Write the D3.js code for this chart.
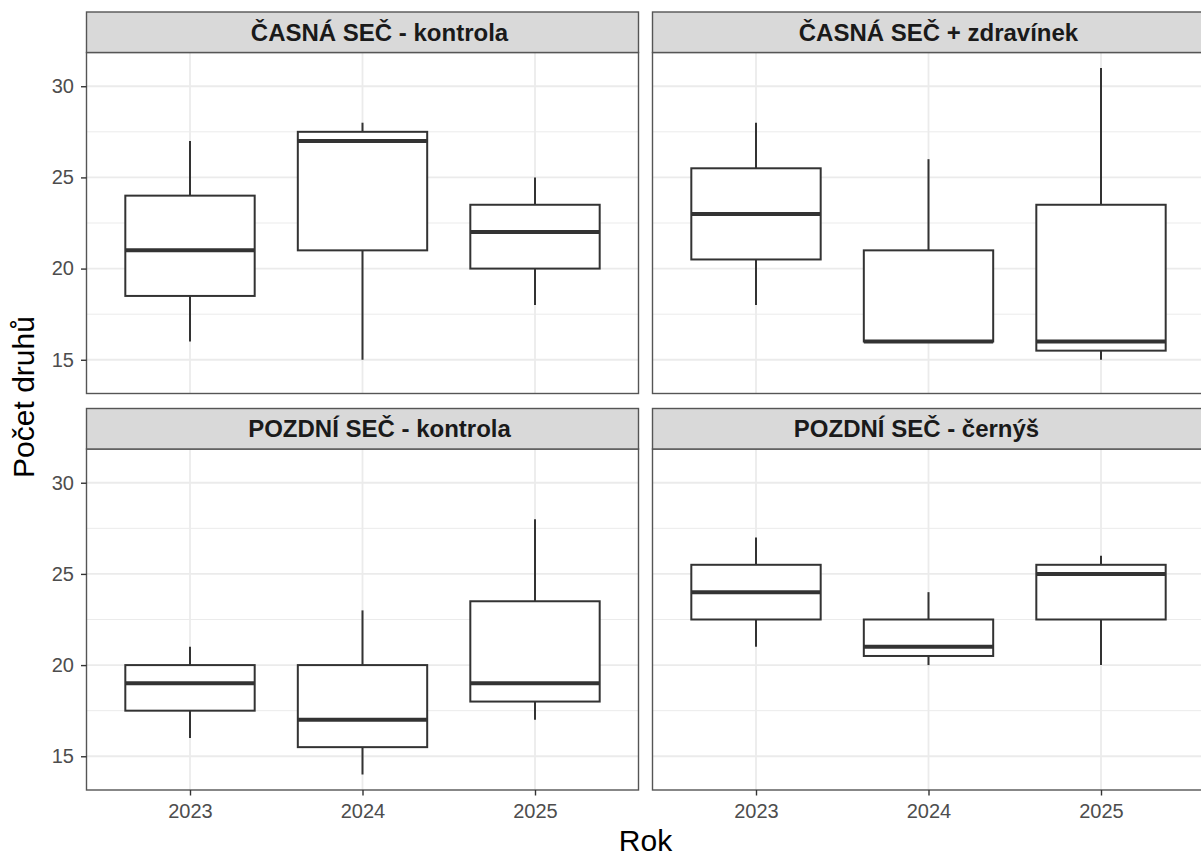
<!DOCTYPE html>
<html>
  <head>
    <meta charset="utf-8" />
    <script src="https://d3js.org/d3.v7.min.js"></script>
    <style>
      body { margin: 0; background: #fff; }
      svg { font-family: "Liberation Sans", Arial, sans-serif; display: block; }
    </style>
  </head>

  <body>
    <svg width="1201" height="858"></svg>

    <script type="text/javascript">
      // data
      var years = ["2023", "2024", "2025"];
      var panelNames = [
        "ČASNÁ SEČ - kontrola",
        "ČASNÁ SEČ + zdravínek",
        "POZDNÍ SEČ - kontrola",
        "POZDNÍ SEČ - černýš",
      ];
      var whiskerLow = [[16, 15, 18], [18, 16, 15], [16, 14, 17], [21, 20, 20]];
      var lowerQ = [[18.5, 21, 20], [20.5, 16, 15.5], [17.5, 15.5, 18], [22.5, 20.5, 22.5]];
      var medians = [[21, 27, 22], [23, 16, 16], [19, 17, 19], [24, 21, 25]];
      var upperQ = [[24, 27.5, 23.5], [25.5, 21, 23.5], [20, 20, 23.5], [25.5, 22.5, 25.5]];
      var whiskerHigh = [[27, 28, 25], [28, 26, 31], [21, 23, 28], [27, 24, 26]];
      var yTicks = [15, 20, 25, 30];
      var yMinor = [17.5, 22.5, 27.5];

      var svg = d3.select("svg");

      var colX = [86.5, 652.5];
      var panelW = 552;
      var stripTop = [12, 408.5];
      var stripH = 40.5;
      var panelH = 341;
      var labelShift = [17, 10, 17, -12];

      // y domain like ggplot: data range with 5% expansion
      var allLo = d3.min(whiskerLow.flat());
      var allHi = d3.max(whiskerHigh.flat());
      var pad = (allHi - allLo) * 0.05;

      panelNames.forEach(function (name, p) {
        var col = p % 2;
        var row = Math.floor(p / 2);
        var x0 = colX[col];
        var top = stripTop[row] + stripH;

        var x = d3.scalePoint().domain(years).range([x0, x0 + panelW]).padding(0.6);
        var y = d3.scaleLinear().domain([allLo - pad, allHi + pad]).range([top + panelH, top]);
        var boxW = x.step() * 0.75;

        var g = svg.append("g").attr("class", "panel");

        g.append("rect")
          .attr("x", x0).attr("y", top)
          .attr("width", panelW).attr("height", panelH)
          .attr("fill", "#fff");

        // grid
        g.selectAll(".minor").data(yMinor).enter().append("line")
          .attr("x1", x0).attr("x2", x0 + panelW)
          .attr("y1", y).attr("y2", y)
          .attr("stroke", "#EBEBEB").attr("stroke-width", 1);
        g.selectAll(".major").data(yTicks).enter().append("line")
          .attr("x1", x0).attr("x2", x0 + panelW)
          .attr("y1", y).attr("y2", y)
          .attr("stroke", "#EBEBEB").attr("stroke-width", 1.8);
        g.selectAll(".vmajor").data(years).enter().append("line")
          .attr("x1", x).attr("x2", x)
          .attr("y1", top).attr("y2", top + panelH)
          .attr("stroke", "#EBEBEB").attr("stroke-width", 1.8);

        var boxes = g.selectAll(".box").data(years).enter().append("g");

        boxes.append("line")
          .attr("x1", x).attr("x2", x)
          .attr("y1", function (d, i) { return y(upperQ[p][i]); })
          .attr("y2", function (d, i) { return y(whiskerHigh[p][i]); })
          .attr("stroke", "#333").attr("stroke-width", 2);
        boxes.append("line")
          .attr("x1", x).attr("x2", x)
          .attr("y1", function (d, i) { return y(lowerQ[p][i]); })
          .attr("y2", function (d, i) { return y(whiskerLow[p][i]); })
          .attr("stroke", "#333").attr("stroke-width", 2);
        boxes.append("rect")
          .attr("x", function (d) { return x(d) - boxW / 2; })
          .attr("width", boxW)
          .attr("y", function (d, i) { return y(upperQ[p][i]); })
          .attr("height", function (d, i) { return y(lowerQ[p][i]) - y(upperQ[p][i]); })
          .attr("fill", "#fff").attr("stroke", "#333").attr("stroke-width", 2);
        boxes.append("line")
          .attr("x1", function (d) { return x(d) - boxW / 2; })
          .attr("x2", function (d) { return x(d) + boxW / 2; })
          .attr("y1", function (d, i) { return y(medians[p][i]); })
          .attr("y2", function (d, i) { return y(medians[p][i]); })
          .attr("stroke", "#333").attr("stroke-width", 4);

        // panel border
        g.append("rect")
          .attr("x", x0).attr("y", top)
          .attr("width", panelW).attr("height", panelH)
          .attr("fill", "none").attr("stroke", "#555").attr("stroke-width", 1.4);

        // strip
        g.append("rect")
          .attr("x", x0).attr("y", stripTop[row])
          .attr("width", panelW).attr("height", stripH)
          .attr("fill", "#D9D9D9").attr("stroke", "#555").attr("stroke-width", 1.4);
        g.append("text")
          .attr("x", x0 + panelW / 2 + labelShift[p])
          .attr("y", stripTop[row] + stripH / 2)
          .attr("dy", "0.36em")
          .attr("text-anchor", "middle")
          .attr("font-size", 24)
          .attr("font-weight", "bold")
          .attr("fill", "#1A1A1A")
          .text(name);

        // axes
        if (col === 0) {
          var ya = g.append("g")
            .attr("transform", "translate(" + x0 + ",0)")
            .call(d3.axisLeft(y).tickValues(yTicks).tickSize(5.5).tickPadding(7));
          ya.select(".domain").remove();
          ya.selectAll(".tick line").attr("stroke", "#333").attr("stroke-width", 1.4);
          ya.selectAll(".tick text").attr("fill", "#4D4D4D").attr("font-size", 20)
            .attr("font-family", "Liberation Sans, Arial, sans-serif");
        }
        if (row === 1) {
          var xa = g.append("g")
            .attr("transform", "translate(0," + (top + panelH) + ")")
            .call(d3.axisBottom(x).tickSize(5.5).tickPadding(8));
          xa.select(".domain").remove();
          xa.selectAll(".tick line").attr("stroke", "#333").attr("stroke-width", 1.4);
          xa.selectAll(".tick text").attr("fill", "#4D4D4D").attr("font-size", 20)
            .attr("font-family", "Liberation Sans, Arial, sans-serif");
        }
      });

      // axis titles
      svg.append("text")
        .attr("x", (colX[0] + colX[1] + panelW) / 2)
        .attr("y", 851)
        .attr("text-anchor", "middle")
        .attr("font-size", 30)
        .attr("fill", "#000")
        .text("Rok");

      svg.append("text")
        .attr("transform", "translate(34," + ((stripTop[0] + stripTop[1] + stripH + panelH) / 2 - 4) + ") rotate(-90)")
        .attr("text-anchor", "middle")
        .attr("font-size", 30)
        .attr("fill", "#000")
        .text("Počet druhů");
    </script>
  </body>
</html>
